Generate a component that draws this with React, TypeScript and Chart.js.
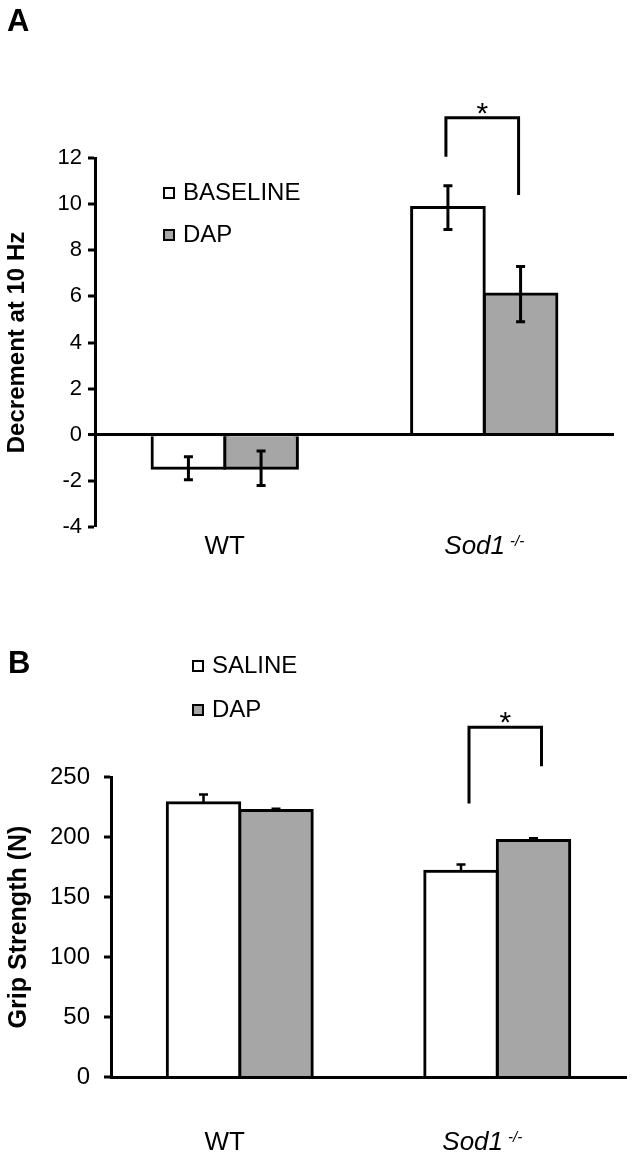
import React, { useEffect, useRef } from "react";
import { Chart, registerables } from "chart.js";

Chart.register(...registerables);

const FONT = "'Liberation Sans', Arial, Helvetica, sans-serif";

// ---------- shared categories ----------
const categories = ["WT", "Sod1"];
const categorySup = ["", "-/-"];
const categoryItalic = [false, true];

// ---------- Panel A ----------
const panelALetter = "A";
const panelATitle = "Decrement at 10 Hz";
const seriesALabels = ["BASELINE", "DAP"];
const decrementBaseline = [-1.45, 9.85];
const decrementBaselineErr = [0.5, 0.95];
const decrementDap = [-1.45, 6.1];
const decrementDapErr = [0.75, 1.2];
const yMinA = -4;
const yMaxA = 12;
const yStepA = 2;
const bracketA = { index: 1, top: 13.75, leftEnd: 12.05, rightEnd: 10.4, text: "*" };

// ---------- Panel B ----------
const panelBLetter = "B";
const panelBTitle = "Grip Strength (N)";
const seriesBLabels = ["SALINE", "DAP"];
const gripSaline = [228.5, 171.5];
const gripSalineErr = [7, 5.5];
const gripDap = [222, 197];
const gripDapErr = [1.5, 2];
const yMinB = 0;
const yMaxB = 250;
const yStepB = 50;
const bracketB = { index: 1, top: 291.5, leftEnd: 228, rightEnd: 259, text: "*" };

const WHITE = "#ffffff";
const GREY = "#a6a6a6";

const decorPlugin = {
  id: "decor",
  afterDraw(chart: any, _args: any, opts: any) {
    const ctx = chart.ctx as CanvasRenderingContext2D;
    const xs = chart.scales.x;
    const ys = chart.scales.y;
    ctx.save();
    ctx.strokeStyle = "#000";
    ctx.fillStyle = "#000";
    ctx.lineCap = "butt";

    // error bars
    chart.data.datasets.forEach((ds: any, di: number) => {
      const meta = chart.getDatasetMeta(di);
      const errs = ds.errors || [];
      meta.data.forEach((bar: any, j: number) => {
        const v = ds.data[j];
        const e = errs[j];
        if (e == null) return;
        const x = bar.x;
        const yTop = ys.getPixelForValue(v + e);
        const yBot = opts.errorMode === "up" ? ys.getPixelForValue(v) : ys.getPixelForValue(v - e);
        ctx.lineWidth = opts.errorWidth;
        ctx.beginPath();
        ctx.moveTo(x, yTop);
        ctx.lineTo(x, yBot);
        ctx.moveTo(x - opts.capHalf, yTop);
        ctx.lineTo(x + opts.capHalf, yTop);
        if (opts.errorMode !== "up") {
          ctx.moveTo(x - opts.capHalf, yBot);
          ctx.lineTo(x + opts.capHalf, yBot);
        }
        ctx.stroke();
      });
    });

    // significance bracket
    const br = opts.bracket;
    if (br) {
      const b0 = chart.getDatasetMeta(0).data[br.index];
      const b1 = chart.getDatasetMeta(1).data[br.index];
      const xl = b0.x + opts.bracketDx;
      const xr = b1.x + opts.bracketDx;
      const yt = ys.getPixelForValue(br.top);
      ctx.lineWidth = 3;
      ctx.lineJoin = "miter";
      ctx.beginPath();
      ctx.moveTo(xl, ys.getPixelForValue(br.leftEnd));
      ctx.lineTo(xl, yt);
      ctx.lineTo(xr, yt);
      ctx.lineTo(xr, ys.getPixelForValue(br.rightEnd));
      ctx.stroke();
      ctx.font = `30px ${FONT}`;
      ctx.textAlign = "center";
      ctx.textBaseline = "alphabetic";
      ctx.fillText(br.text, (xl + xr) / 2, yt + 5);
    }

    // legend
    const lg = opts.legend;
    chart.data.datasets.forEach((ds: any, di: number) => {
      const bx = lg.x;
      const by = lg.y + di * lg.gap;
      ctx.fillStyle = ds.backgroundColor;
      ctx.fillRect(bx, by, 12, 12);
      ctx.lineWidth = 2;
      ctx.strokeStyle = "#000";
      ctx.strokeRect(bx + 1, by + 1, 10, 10);
      ctx.fillStyle = "#000";
      ctx.font = `24px ${FONT}`;
      ctx.textAlign = "left";
      ctx.textBaseline = "middle";
      ctx.fillText(ds.label, bx + 20, by + 6.5);
    });

    // category labels
    const xl = opts.xLabels;
    categories.forEach((cat, i) => {
      const cx = xs.getPixelForValue(i) + xl.dx;
      const mainFont = `${categoryItalic[i] ? "italic " : ""}26px ${FONT}`;
      const supFont = `${categoryItalic[i] ? "italic " : ""}15px ${FONT}`;
      ctx.font = mainFont;
      const w1 = ctx.measureText(cat).width;
      let w2 = 0;
      if (categorySup[i]) {
        ctx.font = supFont;
        w2 = ctx.measureText(categorySup[i]).width + 5;
      }
      const start = cx - (w1 + w2) / 2;
      ctx.textAlign = "left";
      ctx.textBaseline = "alphabetic";
      ctx.fillStyle = "#000";
      ctx.font = mainFont;
      ctx.fillText(cat, start, xl.y);
      if (categorySup[i]) {
        ctx.font = supFont;
        ctx.fillText(categorySup[i], start + w1 + 5, xl.y - 8);
      }
    });

    // panel letter
    ctx.font = `bold 31px ${FONT}`;
    ctx.textAlign = "left";
    ctx.textBaseline = "alphabetic";
    ctx.fillText(opts.letter.text, opts.letter.x, opts.letter.y);

    ctx.restore();
  },
};

function makeDataset(label: string, data: number[], errors: number[], color: string, catPct: number) {
  return {
    label,
    data,
    errors,
    backgroundColor: color,
    borderColor: "#000",
    borderWidth: 3,
    inflateAmount: 1.5,
    barPercentage: 1,
    categoryPercentage: catPct,
  } as any;
}

function yScale(min: number, max: number, step: number, title: string, width: number, tickFont: number, tickPad: number, titleFont: number, titlePad: number, zeroLine: boolean) {
  return {
    min,
    max,
    afterFit: (s: any) => {
      s.width = width;
    },
    ticks: { stepSize: step, color: "#000", font: { family: FONT, size: tickFont }, padding: tickPad },
    grid: {
      drawOnChartArea: zeroLine,
      color: (c: any) => (zeroLine && c.tick && c.tick.value === 0 ? "#000" : "rgba(0,0,0,0)"),
      lineWidth: (c: any) => (zeroLine && c.tick && c.tick.value === 0 ? 3 : 0),
      tickColor: "#000",
      tickWidth: 3,
      tickLength: 7,
      z: 1,
    },
    border: { display: true, color: "#000", width: 3, z: 1 },
    title: {
      display: true,
      text: title,
      color: "#000",
      font: { family: FONT, size: titleFont, weight: "bold" },
      padding: { top: titlePad, bottom: 0 },
    },
  };
}

function xScale(height: number, showBorder: boolean) {
  return {
    type: "category",
    offset: true,
    afterFit: (s: any) => {
      s.height = height;
    },
    ticks: { display: false },
    grid: { display: false },
    border: { display: showBorder, color: "#000", width: 3, z: 1 },
  };
}

function useChart(ref: React.RefObject<HTMLCanvasElement | null>, build: () => any) {
  useEffect(() => {
    if (!ref.current) return;
    const chart = new Chart(ref.current, build());
    return () => chart.destroy();
  }, []);
}

export default function App() {
  const refA = useRef<HTMLCanvasElement>(null);
  const refB = useRef<HTMLCanvasElement>(null);

  useChart(refA, () => ({
    type: "bar",
    data: {
      labels: categories,
      datasets: [
        makeDataset(seriesALabels[0], decrementBaseline, decrementBaselineErr, WHITE, 0.56),
        makeDataset(seriesALabels[1], decrementDap, decrementDapErr, GREY, 0.56),
      ],
    },
    options: {
      animation: false,
      responsive: false,
      devicePixelRatio: 1,
      layout: { padding: { left: 0, top: 158, right: 19, bottom: 0 } },
      plugins: {
        legend: { display: false },
        tooltip: { enabled: false },
        decor: {
          errorMode: "both",
          errorWidth: 3,
          capHalf: 4.5,
          bracket: bracketA,
          bracketDx: -2,
          legend: { x: 163, y: 187, gap: 42 },
          xLabels: { y: 554, dx: 0 },
          letter: { text: panelALetter, x: 7, y: 31 },
        },
      },
      scales: {
        x: xScale(53, false),
        y: yScale(yMinA, yMaxA, yStepA, panelATitle, 95, 22, 6, 24, 3, true),
      },
    },
    plugins: [decorPlugin],
  }));

  useChart(refB, () => ({
    type: "bar",
    data: {
      labels: categories,
      datasets: [
        makeDataset(seriesBLabels[0], gripSaline, gripSalineErr, WHITE, 0.563),
        makeDataset(seriesBLabels[1], gripDap, gripDapErr, GREY, 0.563),
      ],
    },
    options: {
      animation: false,
      responsive: false,
      devicePixelRatio: 1,
      layout: { padding: { left: 0, top: 197, right: 7, bottom: 0 } },
      plugins: {
        legend: { display: false },
        tooltip: { enabled: false },
        decor: {
          errorMode: "up",
          errorWidth: 2.5,
          capHalf: 4.5,
          bracket: bracketB,
          bracketDx: 8,
          legend: { x: 192, y: 80, gap: 44 },
          xLabels: { y: 570, dx: -15 },
          letter: { text: panelBLetter, x: 8, y: 93 },
        },
      },
      scales: {
        x: xScale(80, true),
        y: yScale(yMinB, yMaxB, yStepB, panelBTitle, 111, 24, 14, 25, 4, false),
      },
    },
    plugins: [decorPlugin],
  }));

  return (
    <div style={{ position: "absolute", left: 0, top: 0, width: 633, height: 1157, background: "#fff" }}>
      <canvas ref={refA} width={633} height={580} style={{ position: "absolute", left: 0, top: 0, display: "block" }} />
      <canvas ref={refB} width={633} height={577} style={{ position: "absolute", left: 0, top: 580, display: "block" }} />
    </div>
  );
}
